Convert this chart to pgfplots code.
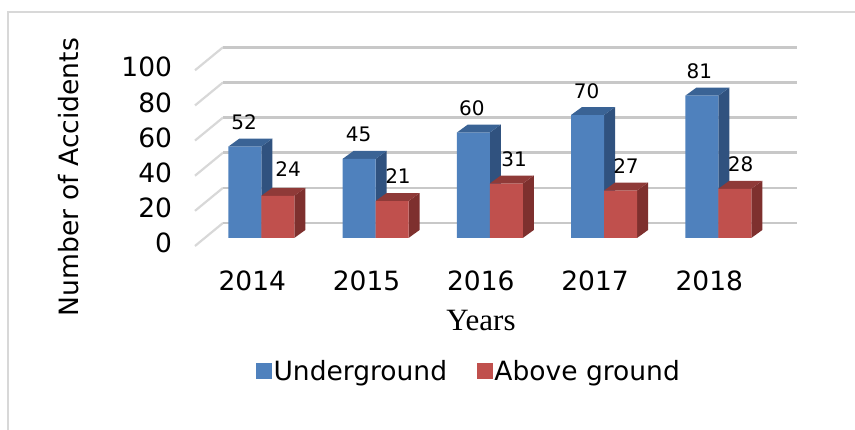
\documentclass[border=0pt]{standalone}
\usepackage{fontspec}
\setmainfont{DejaVu Sans}
\newfontfamily\timesf{Liberation Serif}
\usepackage{pgfplots}
\pgfplotsset{compat=1.18}
\definecolor{blueF}{HTML}{4F81BD}
\definecolor{blueS}{HTML}{30527F}
\definecolor{blueT}{HTML}{3A6395}
\definecolor{redF}{HTML}{C0504D}
\definecolor{redS}{HTML}{7E302E}
\definecolor{redT}{HTML}{8F3A38}
\definecolor{gridc}{HTML}{C8C8C8}
\definecolor{wallc}{HTML}{D8D8D8}
\begin{document}
\begin{tikzpicture}
\path[use as bounding box] (0,0) rectangle (855pt,430pt);
\draw[color=wallc,line width=1.2pt] (8pt,0) -- (8pt,418pt) -- (855pt,418pt);
\begin{axis}[
  at={(175.6pt,174.43pt)},anchor=south west,
  x=114.25pt,y=1.757pt,
  xmin=-0.75,xmax=4.75,ymin=-10,ymax=120,
  clip=false,axis line style={draw=none},
  major tick length=0pt,
  unbounded coords=jump,
  xtick={0,1,2,3,4},xticklabels={2014,2015,2016,2017,2018},
  ytick={0,20,40,60,80,100},
  /pgf/number format/assume math mode=true,
  tick label style={font=\fontsize{26.5}{26.5}\selectfont},
  xticklabel style={xshift=-9pt,yshift=-12pt},
  yticklabel style={yshift=-5pt,xshift=0pt},
  xlabel={\timesf Years},
  xlabel style={at={(axis cs:1.923,-46.7)},anchor=center,font=\fontsize{31}{31}\selectfont},
  ylabel={Number of Accidents},
  ylabel style={at={(axis cs:-1.683,34.7)},anchor=center,font=\fontsize{26.6}{26.6}\selectfont},
  legend style={at={(axis cs:1.818,-75.7)},anchor=center,draw=none,fill=none,
    legend columns=2,font=\fontsize{26.5}{26.5}\selectfont,
    /tikz/every even column/.append style={column sep=28pt}},
  legend image code/.code={\fill[#1] (-8pt,-7.5pt) rectangle (7pt,7.5pt);},
]
\addlegendimage{blueF}\addlegendentry{Underground}
\addlegendimage{redF}\addlegendentry{Above ground}
% side walls
\addplot[forget plot,draw=wallc,line width=2.2pt] coordinates {
 (-0.5803,-4.55)(-0.3352,8.54)(nan,nan)
 (-0.5803,15.45)(-0.3352,28.54)(nan,nan)
 (-0.5803,35.45)(-0.3352,48.54)(nan,nan)
 (-0.5803,55.45)(-0.3352,68.54)(nan,nan)
 (-0.5803,75.45)(-0.3352,88.54)(nan,nan)
 (-0.5803,95.45)(-0.3352,108.54)};
% back grid
\addplot[forget plot,draw=gridc,line width=2.6pt] coordinates {
 (-0.3352,8.54)(4.686,8.54)(nan,nan)
 (-0.3352,28.54)(4.686,28.54)(nan,nan)
 (-0.3352,48.54)(4.686,48.54)(nan,nan)
 (-0.3352,68.54)(4.686,68.54)(nan,nan)
 (-0.3352,88.54)(4.686,88.54)(nan,nan)
 (-0.3352,108.54)(4.686,108.54)};
% blue sides
\addplot[forget plot,fill=blueS,draw=none] coordinates {
 (0,0)(0,52)(0.0963,56.55)(0.0963,4.55)(nan,nan)
 (1,0)(1,45)(1.0963,49.55)(1.0963,4.55)(nan,nan)
 (2,0)(2,60)(2.0963,64.55)(2.0963,4.55)(nan,nan)
 (3,0)(3,70)(3.0963,74.55)(3.0963,4.55)(nan,nan)
 (4,0)(4,81)(4.0963,85.55)(4.0963,4.55)};
% blue tops
\addplot[forget plot,fill=blueT,draw=none] coordinates {
 (-0.2888,52)(0,52)(0.0963,56.55)(-0.1925,56.55)(nan,nan)
 (0.7112,45)(1,45)(1.0963,49.55)(0.8075,49.55)(nan,nan)
 (1.7112,60)(2,60)(2.0963,64.55)(1.8075,64.55)(nan,nan)
 (2.7112,70)(3,70)(3.0963,74.55)(2.8075,74.55)(nan,nan)
 (3.7112,81)(4,81)(4.0963,85.55)(3.8075,85.55)};
% blue fronts
\addplot[forget plot,ybar,bar width=33pt,bar shift=-16.5pt,fill=blueF,draw=none] coordinates {
 (0,52)(1,45)(2,60)(3,70)(4,81)};
% red sides
\addplot[forget plot,fill=redS,draw=none] coordinates {
 (0.2888,0)(0.2888,24)(0.3851,28.55)(0.3851,4.55)(nan,nan)
 (1.2888,0)(1.2888,21)(1.3851,25.55)(1.3851,4.55)(nan,nan)
 (2.2888,0)(2.2888,31)(2.3851,35.55)(2.3851,4.55)(nan,nan)
 (3.2888,0)(3.2888,27)(3.3851,31.55)(3.3851,4.55)(nan,nan)
 (4.2888,0)(4.2888,28)(4.3851,32.55)(4.3851,4.55)};
% red tops
\addplot[forget plot,fill=redT,draw=none] coordinates {
 (0,24)(0.2888,24)(0.3851,28.55)(0.0963,28.55)(nan,nan)
 (1,21)(1.2888,21)(1.3851,25.55)(1.0963,25.55)(nan,nan)
 (2,31)(2.2888,31)(2.3851,35.55)(2.0963,35.55)(nan,nan)
 (3,27)(3.2888,27)(3.3851,31.55)(3.0963,31.55)(nan,nan)
 (4,28)(4.2888,28)(4.3851,32.55)(4.0963,32.55)};
% red fronts
\addplot[forget plot,ybar,bar width=33pt,bar shift=16.5pt,fill=redF,draw=none] coordinates {
 (0,24)(1,21)(2,31)(3,27)(4,28)};
% value labels
\addplot[forget plot,only marks,mark=none,point meta=explicit,
  nodes near coords,
  nodes near coords style={anchor=center,font=\fontsize{20}{20}\selectfont,inner sep=0pt,text=black},
  /pgf/number format/assume math mode=true]
 table[meta=v] {
 x y v
 -0.151 66.1 52
 0.234 39.2 24
 0.8525 59.1 45
 1.1965 35.4 21
 1.844 73.9 60
 2.212 44.9 31
 2.848 83.8 70
 3.192 41.1 27
 3.834 95.2 81
 4.196 42 28
};
\end{axis}
\end{tikzpicture}
\end{document}
